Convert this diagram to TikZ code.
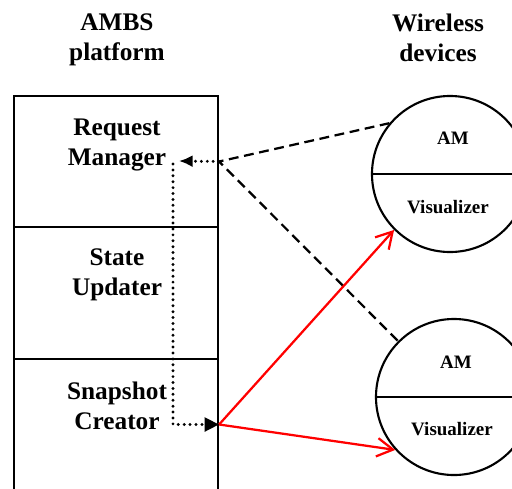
\documentclass[tikz,border=0pt]{standalone}
\usepackage{fontspec}
\setmainfont{Liberation Serif}
\usetikzlibrary{arrows.meta}
\tikzset{
  ttl/.style={font=\fontsize{18}{21.3}\selectfont\bfseries, align=center, inner sep=0pt},
  sec/.style={draw, line width=1.5pt, minimum width=5.1cm, minimum height=3.29cm, inner sep=0pt},
  dev/.style={draw, circle, line width=1.5pt, minimum size=3.9cm, inner sep=0pt},
  dlbl/.style={font=\fontsize{13.5}{16}\selectfont\bfseries, inner sep=0pt},
}

\begin{document}
\begin{tikzpicture}[
  x=0.025cm, y=-0.025cm,
  req/.style={line width=1.6pt, dash pattern=on 7pt off 4pt},
  flw/.style={line width=2.3pt, line cap=round, dash pattern=on 0pt off 4.2pt},
  snd/.style={red, line width=1.6pt, -{Straight Barb[length=4mm,width=4.6mm]}},
]
\useasboundingbox (0,0) rectangle (512,488);

% ================= titles =================
\node[ttl] (ambs) at (117,40) {AMBS\\platform};
\node[ttl] (wls) at (438,38) {Wireless\\devices};

% ================= platform =================
\node[sec] (rmbox) at (116,161.5) {};
\node[sec] (subox) at (116,293) {};
\node[sec] (scbox) at (116,424.5) {};
\node[ttl] (rm) at (117,145) {Request\\Manager};
\node[ttl] (su) at (117,275) {State\\Updater};
\node[ttl] (sc) at (117,406) {Snapshot\\Creator};

% ================= devices =================
\node[dev] (dev1) at (450,174) {};
\draw[line width=1.5pt] (dev1.west) -- (dev1.east);
\node[dlbl] (am1) at (453,138) {AM};
\node[dlbl] (vis1) at (448,207) {Visualizer};

\node[dev] (dev2) at (454,397) {};
\draw[line width=1.5pt] (dev2.west) -- (dev2.east);
\node[dlbl] (am2) at (456,362) {AM};
\node[dlbl] (vis2) at (452,429) {Visualizer};

% ================= requests =================
\draw[req] (dev1.140) -- (rmbox.east) -- (dev2.135);
\coordinate (rmin) at (179,161);
\coordinate (rmout) at (173,164);
\draw[flw, -{Latex[length=3.4mm,width=3mm]}] (rmbox.east) -- (rmin);

% ================= snapshots =================
\draw[flw, -{Triangle[length=3.6mm,width=3.4mm]}] (rmout) |- (scbox.east);
\draw[snd] (scbox.east) -- (dev1.225);
\draw[snd] (scbox.east) -- (dev2.222);
\end{tikzpicture}
\end{document}
